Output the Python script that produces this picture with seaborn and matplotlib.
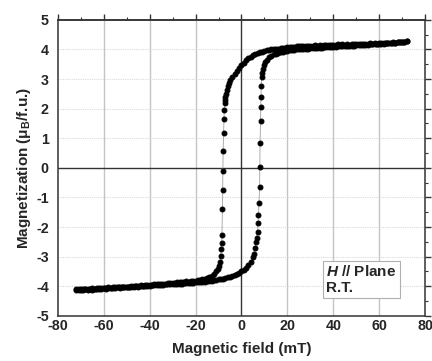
import matplotlib
matplotlib.use("Agg")
import matplotlib.pyplot as plt
from matplotlib.ticker import MultipleLocator
import seaborn as sns
import pandas as pd

# Descending branch (field in mT, magnetization in muB/f.u.)
desc_field = [72, 71, 70, 69, 68, 67, 66, 65, 64, 63, 62, 61, 60, 59, 58, 57, 56, 55, 54, 53, 52, 51,
              50, 49, 48, 47, 46, 45, 44, 43, 42, 41, 40, 39, 38, 37, 36, 35, 34, 33, 32, 31,
              30, 29, 28, 27, 26, 25, 24, 23, 22, 21, 20, 19, 18, 17, 16, 15, 14, 13, 12, 11,
              10, 9, 8, 7, 6, 5, 4, 3, 2, 1, 0, -1, -2, -3, -4, -5, -5.5, -6, -6.5, -6.9, -7.1,
              -7.3, -7.4, -7.5, -7.6, -7.8, -8.0, -8.1, -8.2, -8.3, -8.5, -8.6, -8.8, -9.1, -9.4,
              -9.8, -10.3, -11, -12, -13, -14, -15, -16, -17, -18, -19, -20,
              -21, -22, -23, -24, -25, -26, -27, -28, -29, -30, -31, -32, -33, -34, -35, -36,
              -37, -38, -39, -40, -41, -42, -43, -44, -45, -46, -47, -48, -49, -50, -51, -52,
              -53, -54, -55, -56, -57, -58, -59, -60, -61, -62, -63, -64, -65, -66, -67, -68,
              -69, -70, -71, -72]
desc_mag = [4.27, 4.26, 4.26, 4.24, 4.25, 4.23, 4.24, 4.22, 4.23, 4.21, 4.23, 4.21, 4.22, 4.20, 4.21,
            4.19, 4.21, 4.19, 4.20, 4.18, 4.19, 4.17, 4.19, 4.17, 4.18, 4.16, 4.18, 4.16, 4.17, 4.15,
            4.17, 4.15, 4.16, 4.14, 4.16, 4.14, 4.15, 4.13, 4.15, 4.13, 4.14, 4.12, 4.13, 4.12, 4.12,
            4.11, 4.11, 4.10, 4.10, 4.09, 4.08, 4.07, 4.07, 4.06, 4.05, 4.04, 4.03, 4.02, 4.01, 4.00,
            3.98, 3.97, 3.95, 3.93, 3.91, 3.88, 3.85, 3.81, 3.76, 3.70, 3.63, 3.55, 3.46, 3.37, 3.28,
            3.18, 3.08, 2.96, 2.88, 2.78, 2.64, 2.50, 2.38, 2.28, 2.20, 1.96, 1.66, 1.18, 0.57, -0.10,
            -0.74, -1.40, -2.26, -2.54, -2.75, -2.97, -3.17, -3.30, -3.42, -3.50, -3.58, -3.64, -3.68,
            -3.71, -3.74, -3.76, -3.78, -3.79, -3.81,
            -3.82, -3.82, -3.84, -3.83, -3.85, -3.86, -3.85, -3.87, -3.88, -3.88, -3.89, -3.89, -3.91,
            -3.91, -3.92, -3.93, -3.93, -3.94, -3.95, -3.95, -3.96, -3.96, -3.98, -3.97, -3.99, -3.99,
            -4.00, -4.00, -4.01, -4.01, -4.02, -4.02, -4.03, -4.02, -4.04, -4.04, -4.05, -4.04, -4.06,
            -4.05, -4.06, -4.07, -4.06, -4.08, -4.07, -4.08, -4.08, -4.09, -4.08, -4.09, -4.10, -4.10]

# Ascending branch
asc_field = [-72, -71, -70, -69, -68, -67, -66, -65, -64, -63, -62, -61, -60, -59, -58, -57, -56, -55,
             -54, -53, -52, -51, -50, -49, -48, -47, -46, -45, -44, -43, -42, -41, -40, -39, -38, -37,
             -36, -35, -34, -33, -32, -31, -30, -29, -28, -27, -26, -25, -24, -23, -22, -21, -20, -19,
             -18, -17, -16, -15, -14, -13, -12, -11, -10, -9, -8, -7, -6, -5, -4, -3, -2, -1, 0, 1, 2,
             3, 4, 5, 5.5, 5.9, 6.3, 6.6, 7.0, 7.2, 7.4, 7.6, 7.9, 8.0, 8.1, 8.3, 8.4, 8.5, 8.6, 8.8,
             9.0, 9.4, 9.8, 10.3, 11, 12, 13, 14, 15, 16, 17, 18, 19, 20, 21, 22, 23, 24, 25, 26, 27,
             28, 29, 30, 31, 32, 33, 34, 35, 36, 37, 38, 39, 40, 41, 42, 43, 44, 45, 46, 47, 48, 49,
             50, 51, 52, 53, 54, 55, 56, 57, 58, 59, 60, 61, 62, 63, 64, 65, 66, 67, 68, 69, 70, 71, 72]
asc_mag = [-4.12, -4.13, -4.11, -4.12, -4.10, -4.11, -4.10, -4.11, -4.09, -4.10, -4.08, -4.09, -4.07,
           -4.08, -4.06, -4.07, -4.05, -4.06, -4.04, -4.05, -4.03, -4.04, -4.03, -4.03, -4.01, -4.02,
           -4.00, -4.01, -3.99, -4.00, -3.98, -3.99, -3.98, -3.97, -3.97, -3.96, -3.96, -3.95, -3.95,
           -3.94, -3.94, -3.93, -3.93, -3.92, -3.92, -3.91, -3.91, -3.90, -3.89, -3.89, -3.88, -3.88,
           -3.87, -3.86, -3.86, -3.85, -3.84, -3.83, -3.82, -3.81, -3.80, -3.79, -3.77, -3.76, -3.74,
           -3.72, -3.70, -3.67, -3.64, -3.61, -3.58, -3.54, -3.50, -3.45, -3.38, -3.29, -3.17, -3.02,
           -2.90, -2.72, -2.52, -2.37, -2.15, -1.87, -1.59, -1.19, -0.64, 0.03, 0.85, 1.59, 2.05, 2.41,
           2.75, 3.08, 3.20, 3.35, 3.47, 3.58, 3.66, 3.74, 3.79, 3.83, 3.86, 3.88, 3.91, 3.93, 3.95,
           3.96, 3.97, 3.99, 3.99, 4.01, 4.01, 4.02, 4.02, 4.03, 4.03, 4.04, 4.04, 4.05, 4.05, 4.06,
           4.06, 4.07, 4.07, 4.08, 4.08, 4.09, 4.09, 4.10, 4.10, 4.11, 4.11, 4.12, 4.12, 4.13, 4.13,
           4.14, 4.14, 4.15, 4.15, 4.16, 4.16, 4.17, 4.17, 4.18, 4.18, 4.19, 4.19, 4.20, 4.21, 4.21,
           4.22, 4.22, 4.23, 4.24, 4.24, 4.25, 4.26, 4.27]

x_ticks = [-80, -60, -40, -20, 0, 20, 40, 60, 80]
y_ticks = [-5, -4, -3, -2, -1, 0, 1, 2, 3, 4, 5]
x_label = "Magnetic field (mT)"
y_label = r"Magnetization (μ$_\mathbf{B}$/f.u.)"
note_text = r"$\mathbf{\mathit{H}}$ // Plane" + "\nR.T."

sns.set_style("white")
plt.rcParams["font.family"] = ["Liberation Sans", "DejaVu Sans"]
plt.rcParams["font.weight"] = "bold"
plt.rcParams["axes.unicode_minus"] = False
plt.rcParams["mathtext.fontset"] = "custom"
plt.rcParams["mathtext.bf"] = "Liberation Sans:bold"
plt.rcParams["mathtext.rm"] = "Liberation Sans:bold"
plt.rcParams["mathtext.it"] = "Liberation Sans:italic:bold"

fig = plt.figure(figsize=(4.32, 3.61), dpi=100)
ax = fig.add_axes([0.134, 0.125, 0.850, 0.820])

ax.set_xlim(-80, 80)
ax.set_ylim(-5, 5)

# grid
for xv in x_ticks[1:-1]:
    if xv != 0:
        ax.axvline(xv, color="#c4c4c4", lw=1.0, zorder=0)
for yv in y_ticks[1:-1]:
    if yv != 0:
        ax.axhline(yv, color="#dadada", lw=0.8, ls=(0, (1, 1)), zorder=0)
ax.axvline(0, color="#333333", lw=1.0, zorder=1)
ax.axhline(0, color="#333333", lw=1.0, zorder=1)

df_d = pd.DataFrame({"H": desc_field, "M": desc_mag})
df_a = pd.DataFrame({"H": asc_field, "M": asc_mag})
for df in (df_d, df_a):
    sns.lineplot(data=df, x="H", y="M", sort=False, estimator=None, ax=ax,
                 color="#a0a0a0", lw=0.6, marker="o", markersize=3.5,
                 markerfacecolor="black", markeredgecolor="black", zorder=3)

ax.set_xticks(x_ticks)
ax.set_yticks(y_ticks)
ax.xaxis.set_minor_locator(MultipleLocator(10))
ax.yaxis.set_minor_locator(MultipleLocator(0.5))
ax.tick_params(which="both", top=False, right=True, labelright=False, color="#333333")
ax.tick_params(axis="x", which="both", direction="in")
ax.tick_params(axis="y", which="both", direction="out")
ax.tick_params(which="major", length=4.5, width=1.0, labelsize=10.3, pad=2)
ax.tick_params(which="minor", length=2.5, width=0.8)
for lab in ax.get_xticklabels() + ax.get_yticklabels():
    lab.set_fontweight("bold")

top = ax.secondary_xaxis("top")
top.set_xticks(x_ticks)
top.xaxis.set_minor_locator(MultipleLocator(10))
top.tick_params(which="both", direction="out", labeltop=False, color="#333333")
top.tick_params(which="major", length=4.5, width=1.0)
top.tick_params(which="minor", length=2.5, width=0.8)
top.spines["top"].set_color("#333333")
top.spines["top"].set_linewidth(1.1)

for s in ax.spines.values():
    s.set_color("#333333")
    s.set_linewidth(1.1)

ax.set_xlabel(x_label, fontsize=11, fontweight="bold", labelpad=7)
ax.set_ylabel(y_label, fontsize=11, fontweight="bold", labelpad=2)

ax.text(37.0, -3.78, note_text, fontsize=11, fontweight="bold",
        ha="left", va="center", linespacing=1.15,
        bbox=dict(boxstyle="square,pad=0.2", fc="white", ec="#b0b0b0", lw=0.8), zorder=5)

fig.savefig("out.png", dpi=100)
